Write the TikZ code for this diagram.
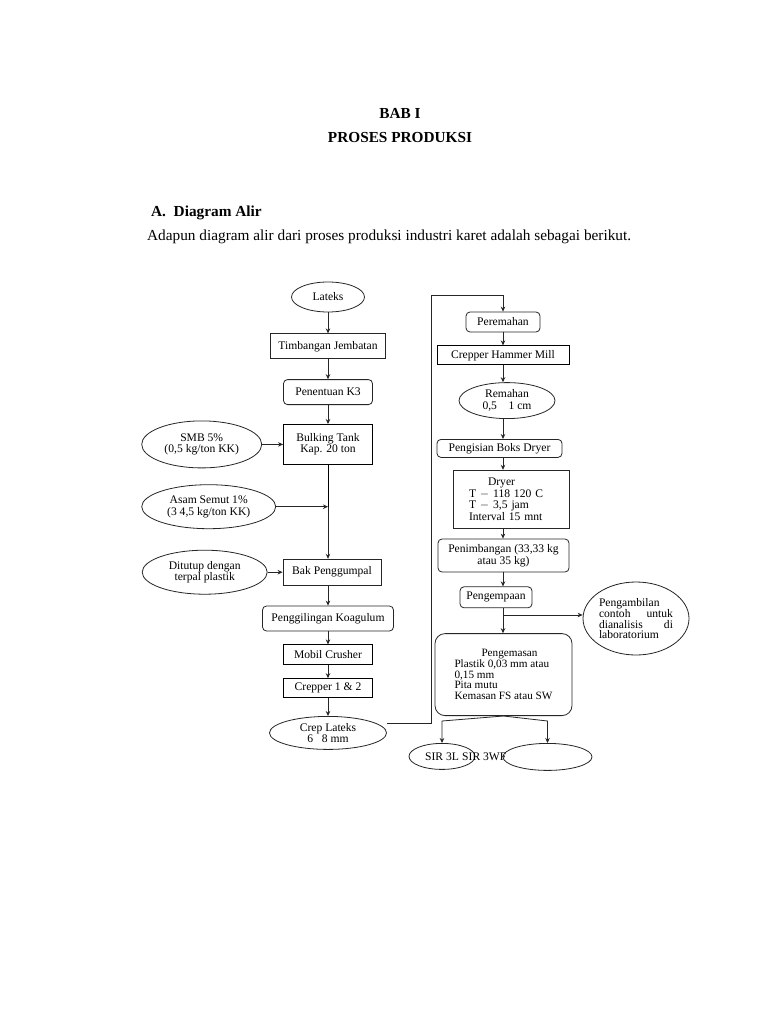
\documentclass[tikz,border=0pt]{standalone}
\usepackage{fontspec}
\setmainfont{Liberation Serif}
\usetikzlibrary{arrows.meta,shapes.geometric,positioning}

\begin{document}
\begin{tikzpicture}[x=1pt,y=-1pt,>={Stealth[length=5pt,width=4.5pt]},font=\fontsize{11.6}{11.5}\selectfont]

	\tikzstyle{rect}=[
		rectangle,
		line width=0.8pt,
		draw=black!85,
		inner sep=1pt,
		align=center
	]
	\tikzstyle{rbox}=[rect, rounded corners=4pt]
	\tikzstyle{oval}=[
		ellipse,
		line width=0.8pt,
		draw=black!85,
		inner sep=0pt,
		align=center
	]
	\tikzstyle{post}=[->, line width=0.8pt, draw=black!85]
	\tikzstyle{head}=[font=\fontsize{15.3}{18}\selectfont\bfseries, inner sep=0pt]
	\tikzstyle{body}=[font=\fontsize{15.3}{18}\selectfont, inner sep=0pt]

	\useasboundingbox[fill=white] (0,0) rectangle (768,1024);

	% judul
	\node [head] (T1) at (400,113) {BAB I};
	\node [head] (T2) at (400,138) {PROSES PRODUKSI};
	\node [head, anchor=west] (T3) at (151,213) {A.\ \ Diagram Alir};
	\node [body, anchor=west] (T4) at (147,237) {Adapun diagram alir dari proses produksi industri karet adalah sebagai berikut.};

	% kolom kiri
	\node [oval, minimum width=73pt, minimum height=30pt] (A) at (328,297) {Lateks};
	\node [rect, minimum width=115pt, minimum height=25pt] (B) [below=21pt of A] {Timbangan Jembatan};
	\node [rbox, minimum width=89pt, minimum height=25pt] (C) [below=20pt of B] {Penentuan K3};
	\node [rect, thick, draw=black, minimum width=89pt, minimum height=40pt] (D) [below=19pt of C] {Bulking Tank\\Kap. 20 ton};
	\node [oval, minimum width=120pt, minimum height=47pt] (E) [left=21pt of D] {SMB 5\%\\(0,5 kg/ton KK)};
	\node [oval, minimum width=134pt, minimum height=44pt] (F) [below=16pt of E, xshift=7pt] {Asam Semut 1\%\\(3 4,5 kg/ton KK)};
	\node [rect, minimum width=98pt, minimum height=26pt] (H) [below=94pt of D, xshift=4pt] {Bak Penggumpal};
	\node [oval, minimum width=125pt, minimum height=44pt] (G) [left=15pt of H] {Ditutup dengan\\terpal plastik};
	\node [rbox, minimum width=131pt, minimum height=25pt] (I) [below=20pt of H, xshift=-4pt] {Penggilingan Koagulum};
	\node [rect, thick, draw=black, minimum width=89pt, minimum height=20pt] (J) [below=13pt of I] {Mobil Crusher};
	\node [rect, thick, draw=black, minimum width=89pt, minimum height=19pt] (K) [below=13pt of J] {Crepper 1 \& 2};
	\node [oval, minimum width=117pt, minimum height=33pt] (L) [below=18pt of K] {Crep Lateks\\6~~~8 mm};

	% kolom kanan
	\coordinate (Z) at (431,295);
	\node [rbox, minimum width=74pt, minimum height=20pt] (M) at (503,322) {Peremahan};
	\node [rect, thick, draw=black, minimum width=132pt, minimum height=19pt] (N) [below=13pt of M] {Crepper Hammer Mill};
	\node [oval, minimum width=96pt, minimum height=36pt] (O) [below=17pt of N, xshift=4pt] {Remahan\\0,5~~~~1 cm};
	\node [rbox, minimum width=125pt, minimum height=18pt] (P) [below=20pt of O, xshift=-7.5pt] {Pengisian Boks Dryer};
	\node [rect, align=left, text width=84pt, inner xsep=16pt, minimum height=58pt, font=\fontsize{11.6}{11.7}\selectfont] (Q) [below=12pt of P, xshift=11.5pt] {\hspace*{19pt}Dryer\\T $-$ 118 120 C\\T $-$ 3,5 jam\\Interval 15 mnt};
	\node [rbox, minimum width=131pt, minimum height=33pt] (R) [below=10pt of Q, xshift=-7.5pt] {Penimbangan (33,33 kg\\atau 35 kg)};
	\node [rbox, minimum width=72pt, minimum height=21pt] (S) [below=14pt of R, xshift=-7.5pt] {Pengempaan};
	\node [rbox, rounded corners=10pt, align=left, minimum width=137pt, minimum height=82pt, font=\fontsize{11.2}{10.6}\selectfont] (U) [below=25pt of S, xshift=7.5pt] {\hspace*{27pt}Pengemasan\\Plastik 0,03 mm atau\\0,15 mm\\Pita mutu\\Kemasan FS atau SW};
	\node [oval, align=left, minimum width=106pt, minimum height=73pt, font=\fontsize{11.6}{10.4}\selectfont] (T) at (636,618.5) {Pengambilan\\\makebox[74pt][s]{contoh untuk}\\\makebox[74pt][s]{dianalisis di}\\laboratorium};
	\node [oval, minimum width=66pt, minimum height=26pt] (V) [below=27pt of U, xshift=-61.5pt] {SIR 3L};
	\node [oval, minimum width=89pt, minimum height=27pt] (W) [below=27pt of U, xshift=44pt] {};
	\node [inner sep=0pt, anchor=west] (X) [right=20pt of V.center] {SIR 3WF};
	\coordinate (Y) at (503,615);
	\coordinate (VW) at (0,721);

	% panah kiri
	\draw[post] (A)--(B);
	\draw[post] (B)--(C);
	\draw[post] (C)--(D);
	\draw[post] (E)--(D);
	\draw[-] (D)--(D |- F);
	\draw[post] (F)--(F -| D);
	\draw[post] (D |- F)--(D |- H.north);
	\draw[post] (G)--(H);
	\draw[post] (H.south -| I)--(I);
	\draw[post] (I)--(J);
	\draw[post] (J)--(K);
	\draw[post] (K)--(L);

	% panah ke kolom kanan
	\draw[post] (L.east |- 0,723)--(431,723)--(Z)-|(M);

	% panah kanan
	\draw[post] (M)--(N);
	\draw[post] (N)--(N |- O.north);
	\draw[post] (O.south -| M)--(P.north -| M);
	\draw[post] (P.south -| M)--(Q.north -| M);
	\draw[post] (Q.south -| M)--(R.north -| M);
	\draw[post] (R.south -| M)--(S.north -| M);
	\draw[post] (S.south -| M)--(U.north -| M);
	\draw[post] (Y)--(Y -| T.west);
	\draw[post] (U.south)--(V |- VW)--(V.north);
	\draw[post] (U.south)--(W |- VW)--(W.north);

\end{tikzpicture}
\end{document}
